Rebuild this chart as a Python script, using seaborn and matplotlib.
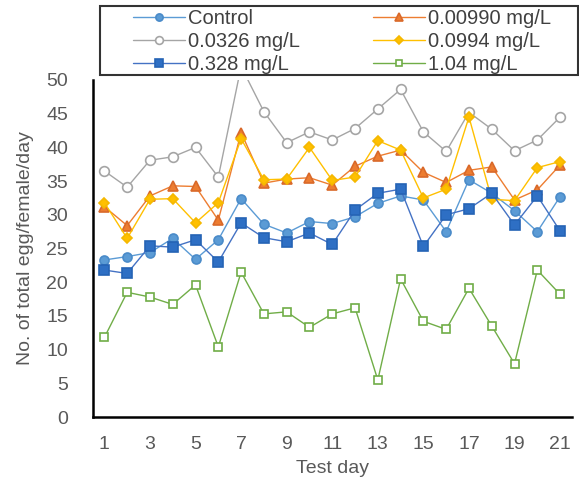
import pandas as pd
import matplotlib.pyplot as plt
import seaborn as sns
from matplotlib.patches import Rectangle
from matplotlib.ticker import MultipleLocator, FixedLocator

days = list(range(1, 22))

control = [23.3, 23.8, 24.4, 26.5, 23.4, 26.3, 32.4, 28.6, 27.3, 29.0, 28.7,
           29.7, 31.7, 32.8, 32.2, 27.5, 35.2, 33.2, 30.6, 27.5, 32.7]
c_00990 = [31.2, 28.4, 32.8, 34.3, 34.2, 29.2, 42.2, 34.7, 35.3, 35.5, 34.4,
           37.2, 38.7, 39.6, 36.3, 34.8, 36.6, 37.1, 32.2, 33.7, 37.4]
c_0326 = [36.5, 34.1, 38.1, 38.6, 40.0, 35.6, 52.0, 45.3, 40.7, 42.3, 41.1,
          42.8, 45.7, 48.6, 42.3, 39.4, 45.2, 42.7, 39.5, 41.1, 44.5]
c_0994 = [31.8, 26.5, 32.3, 32.4, 28.8, 31.8, 41.3, 35.2, 35.3, 40.0, 35.1,
          35.6, 41.0, 39.6, 32.5, 33.8, 44.5, 32.3, 32.1, 37.0, 37.9]
c_328 = [21.8, 21.3, 25.4, 25.2, 26.3, 23.0, 28.8, 26.6, 26.0, 27.3, 25.6,
         30.7, 33.2, 33.8, 25.3, 30.0, 30.9, 33.2, 28.5, 32.8, 27.6]
c_104 = [11.8, 18.5, 17.8, 16.7, 19.6, 10.4, 21.5, 15.3, 15.6, 13.3, 15.3,
         16.2, 5.5, 20.5, 14.2, 13.0, 19.1, 13.5, 7.9, 21.8, 18.2]

labels = ["Control", "0.00990 mg/L", "0.0326 mg/L", "0.0994 mg/L", "0.328 mg/L", "1.04 mg/L"]
values = [control, c_00990, c_0326, c_0994, c_328, c_104]

# line colour, marker, marker face, marker edge, marker size
styles = [
    ("#5B9BD5", "o", "#5B9BD5", "#4A8BC9", 6.5),
    ("#ED7D31", "^", "#ED7D31", "#D9692A", 7),
    ("#A5A5A5", "o", "white", "#A5A5A5", 7),
    ("#FFC000", "D", "#FFC000", "#F5B800", 5.5),
    ("#4472C4", "s", "#2E6FC4", "#2563B5", 6.5),
    ("#70AD47", "s", "white", "#70AD47", 6),
]

sns.set_style("white")
plt.rcParams["font.family"] = ["Liberation Sans", "DejaVu Sans"]
grey = "#595959"

fig = plt.figure(figsize=(5.79, 4.86), dpi=100)
ax = fig.add_axes([93 / 579, 1 - 417 / 486, (571.5 - 93) / 579, (417 - 80) / 486])

for lab, vals, (col, mk, fc, ec, ms) in zip(labels, values, styles):
    df = pd.DataFrame({"day": days, "v": vals})
    sns.lineplot(data=df, x="day", y="v", ax=ax, color=col, lw=1.0, marker=mk,
                 markerfacecolor=fc, markeredgecolor=ec, markeredgewidth=1.2,
                 markersize=ms, label=lab, legend=False)

ax.set_xlim(0.5, 21.5)
ax.set_ylim(0, 50)
ax.set_xticks(list(range(1, 22, 2)))
ax.xaxis.set_minor_locator(FixedLocator([d + 0.5 for d in range(0, 22)]))
ax.yaxis.set_major_locator(MultipleLocator(5))
ax.tick_params(axis="x", which="major", length=0, pad=14, labelsize=14, labelcolor=grey)
ax.tick_params(axis="x", which="minor", direction="in", length=4, width=1.3, color="black")
ax.tick_params(axis="y", which="major", direction="in", length=4, width=1.3, color="black",
               pad=18, labelsize=14, labelcolor=grey)

for s in ["top", "right"]:
    ax.spines[s].set_visible(False)
for s in ["left", "bottom"]:
    ax.spines[s].set_color("black")
    ax.spines[s].set_linewidth(1.8)

ax.set_xlabel("Test day", fontsize=14, color=grey, labelpad=5)
ax.set_ylabel("No. of total egg/female/day", fontsize=14, color=grey, labelpad=9)

# legend box drawn by hand, entries placed inside it
fig.patches.append(Rectangle((100 / 579, 1 - 75 / 486), 478 / 579, 69 / 486,
                             transform=fig.transFigure, facecolor="white",
                             edgecolor="#333333", lw=1.5, zorder=2))

h, l = ax.get_legend_handles_labels()
order = [0, 2, 4, 1, 3, 5]
leg = fig.legend([h[i] for i in order], [l[i] for i in order], ncol=2,
                 loc="upper left", bbox_to_anchor=(132 / 579, 1 - 8 / 486),
                 fontsize=14.5, frameon=False, borderpad=0.05, labelspacing=0.2,
                 handlelength=2.6, handletextpad=0.15, columnspacing=3.6,
                 borderaxespad=0, markerscale=0.8)
leg.set_zorder(3)
for t in leg.get_texts():
    t.set_color("#404040")

fig.savefig("out.png", dpi=100)
